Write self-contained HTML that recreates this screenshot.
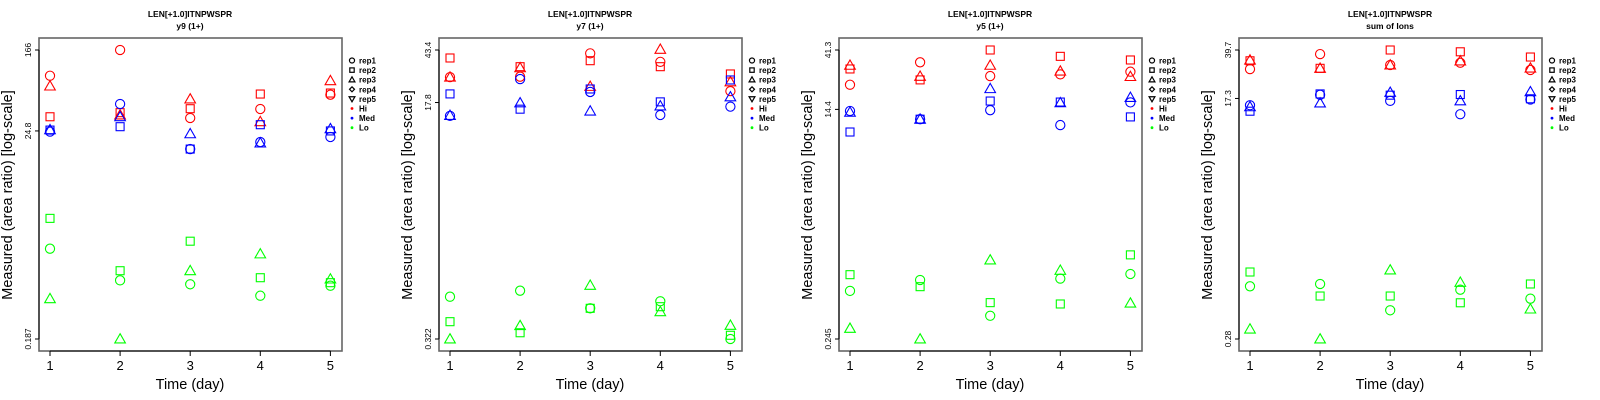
<!DOCTYPE html>
<html><head><meta charset="utf-8"><style>
html,body{margin:0;padding:0;background:#fff;width:1600px;height:400px;overflow:hidden}
svg{display:block;font-family:"Liberation Sans",sans-serif}
</style></head><body>
<svg id="chart" width="1600" height="400" xmlns="http://www.w3.org/2000/svg"></svg>
<script>
// ---- data (days 1..5) ----
const days = [1,2,3,4,5];
const subtitles = ["y9 (1+)","y7 (1+)","y5 (1+)","sum of Ions"];
const yMin = [0.187,0.322,0.245,0.28];
const yMax = [166,43.4,41.3,39.7];
const yMid = [24.8,17.8,14.4,17.3];

// panel 1 (y9)
const p1_hi_rep1 = [90.7,166,33.6,41.5,58.1];
const p1_hi_rep2 = [34.6,38.1,41.8,59.0,60.4];
const p1_hi_rep3 = [71.2,36.1,52.5,30.8,80.7];
const p1_med_rep1 = [24.4,46.7,16.2,19.1,21.5];
const p1_med_rep2 = [25.3,27.4,16.2,28.7,24.8];
const p1_med_rep3 = [25.5,34.6,23.2,18.7,26.1];
const p1_lo_rep1 = [1.56,0.742,0.676,0.517,0.654];
const p1_lo_rep2 = [3.18,0.93,1.86,0.789,0.702];
const p1_lo_rep3 = [0.482,0.187,0.93,1.38,0.765];
// panel 2 (y7)
const p2_hi_rep1 = [27.4,27.6,41.0,35.5,21.6];
const p2_hi_rep2 = [37.9,32.7,36.2,32.7,28.9];
const p2_hi_rep3 = [27.4,32.1,23.4,43.9,25.3];
const p2_med_rep1 = [14.2,26.5,21.3,14.4,16.6];
const p2_med_rep2 = [20.6,15.9,22.4,18.0,26.1];
const p2_med_rep3 = [14.3,17.7,15.4,16.8,19.6];
const p2_lo_rep1 = [0.660,0.731,0.542,0.611,0.322];
const p2_lo_rep2 = [0.432,0.358,0.542,0.557,0.343];
const p2_lo_rep3 = [0.322,0.404,0.801,0.512,0.406];
// panel 3 (y5)
const p3_hi_rep1 = [22.3,33.2,26.0,26.8,28.1];
const p3_hi_rep2 = [29.5,24.3,41.3,36.9,34.6];
const p3_hi_rep3 = [31.5,25.9,31.5,28.4,25.8];
const p3_med_rep1 = [14.0,12.1,14.2,10.9,16.3];
const p3_med_rep2 = [9.64,12.1,16.7,16.4,12.6];
const p3_med_rep3 = [13.7,12.1,20.8,16.2,17.8];
const p3_lo_rep1 = [0.575,0.698,0.370,0.715,0.776];
const p3_lo_rep2 = [0.767,0.620,0.467,0.456,1.09];
const p3_lo_rep3 = [0.296,0.245,0.995,0.829,0.463];
// panel 4 (sum of ions)
const p4_hi_rep1 = [28.6,37.0,30.7,31.9,28.2];
const p4_hi_rep2 = [33.0,29.0,39.7,38.5,35.2];
const p4_hi_rep3 = [33.4,29.0,30.7,32.9,29.1];
const p4_med_rep1 = [15.4,18.4,16.6,13.2,17.0];
const p4_med_rep2 = [13.9,18.7,18.3,18.5,17.2];
const p4_med_rep3 = [15.0,16.0,19.2,16.6,19.4];
const p4_lo_rep1 = [0.691,0.719,0.458,0.652,0.559];
const p4_lo_rep2 = [0.883,0.585,0.585,0.521,0.719];
const p4_lo_rep3 = [0.332,0.28,0.914,0.740,0.468];

const panels = [
 {hi:[p1_hi_rep1,p1_hi_rep2,p1_hi_rep3],med:[p1_med_rep1,p1_med_rep2,p1_med_rep3],lo:[p1_lo_rep1,p1_lo_rep2,p1_lo_rep3]},
 {hi:[p2_hi_rep1,p2_hi_rep2,p2_hi_rep3],med:[p2_med_rep1,p2_med_rep2,p2_med_rep3],lo:[p2_lo_rep1,p2_lo_rep2,p2_lo_rep3]},
 {hi:[p3_hi_rep1,p3_hi_rep2,p3_hi_rep3],med:[p3_med_rep1,p3_med_rep2,p3_med_rep3],lo:[p3_lo_rep1,p3_lo_rep2,p3_lo_rep3]},
 {hi:[p4_hi_rep1,p4_hi_rep2,p4_hi_rep3],med:[p4_med_rep1,p4_med_rep2,p4_med_rep3],lo:[p4_lo_rep1,p4_lo_rep2,p4_lo_rep3]}
];
const legendLabels = ["rep1","rep2","rep3","rep4","rep5"];
const groupLabels = ["Hi","Med","Lo"];
const groupColors = ["#ff0000","#0000ff","#00ff00"];

const NS="http://www.w3.org/2000/svg";
const svg=document.getElementById('chart');
function mk(tag,attrs,parent,text){const e=document.createElementNS(NS,tag);for(const k in attrs)e.setAttribute(k,attrs[k]);if(text!==undefined)e.textContent=text;(parent||svg).appendChild(e);return e;}

function marker(g,shape,cx,cy,color,sw,s){
  let e;
  if(shape===0){e=mk('circle',{cx:cx,cy:cy,r:4.6*s,fill:'none',stroke:color,'stroke-width':sw},g);}
  else if(shape===1){const h=4*s;e=mk('rect',{x:cx-h,y:cy-h,width:2*h,height:2*h,fill:'none',stroke:color,'stroke-width':sw},g);}
  else if(shape===2){const h=5.3*s;e=mk('polygon',{points:`${cx},${cy-h} ${cx+h},${cy+h*0.75} ${cx-h},${cy+h*0.75}`,fill:'none',stroke:color,'stroke-width':sw},g);}
  else if(shape===3){const h=4.5*s;e=mk('polygon',{points:`${cx},${cy-h} ${cx+h},${cy} ${cx},${cy+h} ${cx-h},${cy}`,fill:'none',stroke:color,'stroke-width':sw},g);}
  else {const h=5.3*s;e=mk('polygon',{points:`${cx},${cy+h} ${cx+h},${cy-h*0.75} ${cx-h},${cy-h*0.75}`,fill:'none',stroke:color,'stroke-width':sw},g);}
  return e;
}

panels.forEach((p,pi)=>{
  const ox=pi*400;
  const g=mk('g',{transform:`translate(${ox},0)`});
  
  
  const L=39,R=342,T=38,B=351;
  const yTop=50,yBot=339;
  const lmin=Math.log(yMin[pi]),lmax=Math.log(yMax[pi]);
  const yS=v=>yBot-(Math.log(v)-lmin)/(lmax-lmin)*(yBot-yTop);
  const xS=d=>50+(d-1)*70.1;
  // titles
  const t1=mk('text',{x:190,y:17,'text-anchor':'middle','font-size':8.5,'font-weight':'bold'},g,'LEN[+1.0]ITNPWSPR');
  
  
  const t2=mk('text',{x:190,y:29,'text-anchor':'middle','font-size':8.5,'font-weight':'bold'},g,subtitles[pi]);
  
  
  // box
  const box=mk('rect',{x:L,y:T,width:R-L,height:B-T,fill:'none',stroke:'#666','stroke-width':1.6},g);
  
  
  // x axis
  const xa=mk('g',{},g);
  
  
  mk('line',{x1:xS(1),x2:xS(5),y1:B,y2:B,stroke:'#000','stroke-width':1},xa);
  days.forEach(d=>{
    mk('line',{x1:xS(d),x2:xS(d),y1:B,y2:B+5,stroke:'#000'},xa);
    const tl=mk('text',{x:xS(d),y:370,'text-anchor':'middle','font-size':13},xa,String(d));
    
    
  });
  const xt=mk('text',{x:190,y:389,'text-anchor':'middle','font-size':14.5},g,'Time (day)');
  
  
  // y axis
  const ya=mk('g',{},g);
  
  
  mk('line',{x1:L,x2:L,y1:yS(yMax[pi]),y2:yS(yMin[pi]),stroke:'#000'},ya);
  [yMin[pi],yMid[pi],yMax[pi]].forEach(v=>{
    const y=yS(v);
    mk('line',{x1:L-4,x2:L,y1:y,y2:y,stroke:'#000'},ya);
    const tl=mk('text',{x:0,y:0,'text-anchor':'middle','font-size':8.5,transform:`translate(31,${y}) rotate(-90)`},ya,String(v));
    
    
  });
  const yt=mk('text',{x:0,y:0,'text-anchor':'middle','font-size':14.5,transform:'translate(12,195) rotate(-90)'},g,'Measured (area ratio) [log-scale]');
  
  
  // points
  [p.hi,p.med,p.lo].forEach((grp,gi)=>{
    grp.forEach((series,ri)=>{
      series.forEach((v,di)=>{
        const m=marker(g,ri,xS(days[di]),yS(v),groupColors[gi],1.1,1);
        
        
      });
    });
  });
  // legend
  const lg=mk('g',{},g);
  
  
  legendLabels.forEach((lab,i)=>{
    const y=60.5+i*9.6;
    marker(lg,i,352,y,'#000',1.2,0.55);
    const tx=mk('text',{x:359,y:y+3,'font-size':8,'font-weight':'bold'},lg,lab);
    
    
  });
  groupLabels.forEach((lab,i)=>{
    const y=108.5+i*9.6;
    mk('circle',{cx:352,cy:y,r:1.4,fill:groupColors[i]},lg);
    const tx=mk('text',{x:359,y:y+3,'font-size':8,'font-weight':'bold'},lg,lab);
    
    
  });
});
</script>
</body></html>
